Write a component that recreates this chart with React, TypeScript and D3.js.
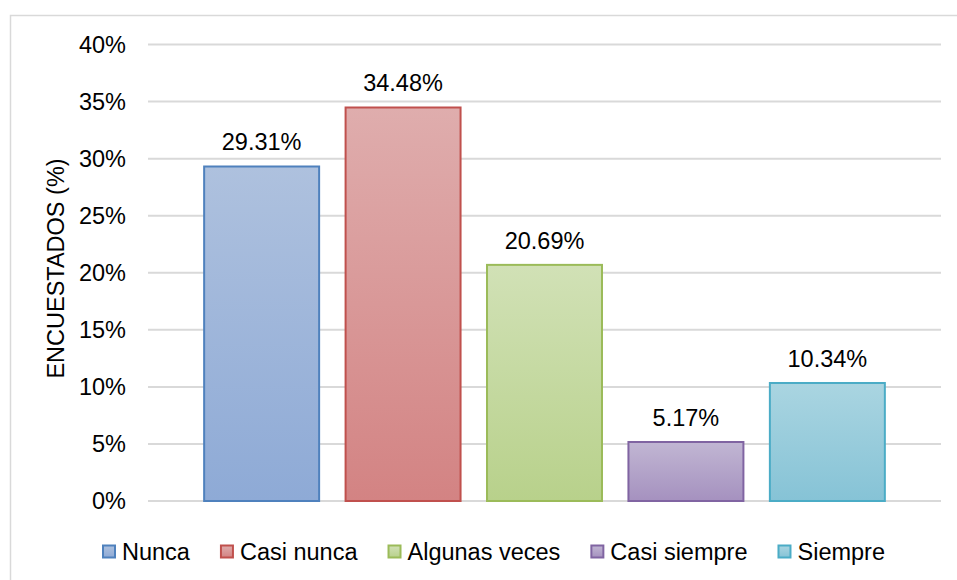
import { useEffect, useRef } from 'react';
import * as d3 from 'd3';

const categories = ['Nunca', 'Casi nunca', 'Algunas veces', 'Casi siempre', 'Siempre'];
const values = [29.31, 34.48, 20.69, 5.17, 10.34];
const yTicks = [0, 5, 10, 15, 20, 25, 30, 35, 40];
const strokeColors = ['#4f81bd', '#c0504d', '#9bbb59', '#8064a2', '#4bacc6'];
const topColors = ['#aec1de', '#dfadad', '#d1e1b6', '#c1b6d3', '#aad5e1'];
const bottomColors = ['#8eaad6', '#d38383', '#b8d18b', '#a591bf', '#86c3d6'];

const W = 957;
const H = 580;
const FONT = 'Liberation Sans, Arial, sans-serif';
const FS = '23.5px';

export default function App() {
  const svgRef = useRef<SVGSVGElement>(null);

  useEffect(() => {
    if (!svgRef.current) return;
    const svg = d3.select(svgRef.current);
    svg.selectAll('*').remove();

    const plot = { left: 148, right: 941, top: 44.5, bottom: 501 };

    // chart frame
    svg.append('rect')
      .attr('x', 10.5).attr('y', 15.5)
      .attr('width', 990).attr('height', 600)
      .attr('fill', '#fff')
      .attr('stroke', '#d9d9d9')
      .attr('stroke-width', 1.5);

    const x = d3.scaleBand<string>()
      .domain(categories)
      .range([plot.left, plot.right])
      .paddingInner(0.187)
      .paddingOuter(0.397);

    const y = d3.scaleLinear()
      .domain([0, 40])
      .range([plot.bottom, plot.top]);

    // gradients
    const defs = svg.append('defs');
    categories.forEach((c, i) => {
      const g = defs.append('linearGradient')
        .attr('id', `grad${i}`)
        .attr('x1', 0).attr('y1', 0).attr('x2', 0).attr('y2', 1);
      g.append('stop').attr('offset', '0%').attr('stop-color', topColors[i]);
      g.append('stop').attr('offset', '100%').attr('stop-color', bottomColors[i]);
    });

    // gridlines
    svg.append('g')
      .selectAll('line')
      .data(yTicks)
      .enter()
      .append('line')
      .attr('x1', plot.left)
      .attr('x2', plot.right)
      .attr('y1', d => y(d))
      .attr('y2', d => y(d))
      .attr('stroke', '#d9d9d9')
      .attr('stroke-width', 2);

    // y tick labels
    svg.append('g')
      .selectAll('text')
      .data(yTicks)
      .enter()
      .append('text')
      .attr('x', 126)
      .attr('y', d => y(d))
      .attr('dy', '0.36em')
      .attr('text-anchor', 'end')
      .style('font-family', FONT)
      .style('font-size', FS)
      .attr('fill', '#000')
      .text(d => `${d}%`);

    // y title
    svg.append('text')
      .attr('transform', `translate(64,268.5) rotate(-90)`)
      .attr('text-anchor', 'middle')
      .style('font-family', FONT)
      .style('font-size', FS)
      .attr('fill', '#000')
      .text('ENCUESTADOS (%)');

    // bars
    svg.append('g')
      .selectAll('rect')
      .data(values)
      .enter()
      .append('rect')
      .attr('x', (_, i) => x(categories[i])!)
      .attr('y', d => y(d))
      .attr('width', x.bandwidth())
      .attr('height', d => y(0) - y(d))
      .attr('fill', (_, i) => `url(#grad${i})`)
      .attr('stroke', (_, i) => strokeColors[i])
      .attr('stroke-width', 2);

    // data labels
    svg.append('g')
      .selectAll('text')
      .data(values)
      .enter()
      .append('text')
      .attr('x', (_, i) => x(categories[i])! + x.bandwidth() / 2)
      .attr('y', d => y(d) - 16)
      .attr('text-anchor', 'middle')
      .style('font-family', FONT)
      .style('font-size', FS)
      .attr('fill', '#000')
      .text(d => `${d.toFixed(2)}%`);

    // legend
    const legend = svg.append('g');
    const items = legend.selectAll('g')
      .data(categories)
      .enter()
      .append('g');
    items.append('rect')
      .attr('width', 12).attr('height', 12)
      .attr('y', -6)
      .attr('fill', (_, i) => `url(#grad${i})`)
      .attr('stroke', (_, i) => strokeColors[i])
      .attr('stroke-width', 2);
    items.append('text')
      .attr('x', 19)
      .attr('dy', '0.36em')
      .style('font-family', FONT)
      .style('font-size', FS)
      .attr('fill', '#000')
      .text(d => d);

    let cursor = 0;
    const offsets: number[] = [];
    items.each(function () {
      const t = d3.select(this).select('text').node() as SVGTextElement;
      offsets.push(cursor);
      cursor += 19 + t.getComputedTextLength() + 31;
    });
    const total = cursor - 31;
    const startX = 494 - total / 2;
    items.attr('transform', (_, i) => `translate(${startX + offsets[i]},551.5)`);
  }, []);

  return (
    <svg
      ref={svgRef}
      width={W}
      height={H}
      style={{ position: 'absolute', left: 0, top: 0, background: '#fff' }}
    />
  );
}
